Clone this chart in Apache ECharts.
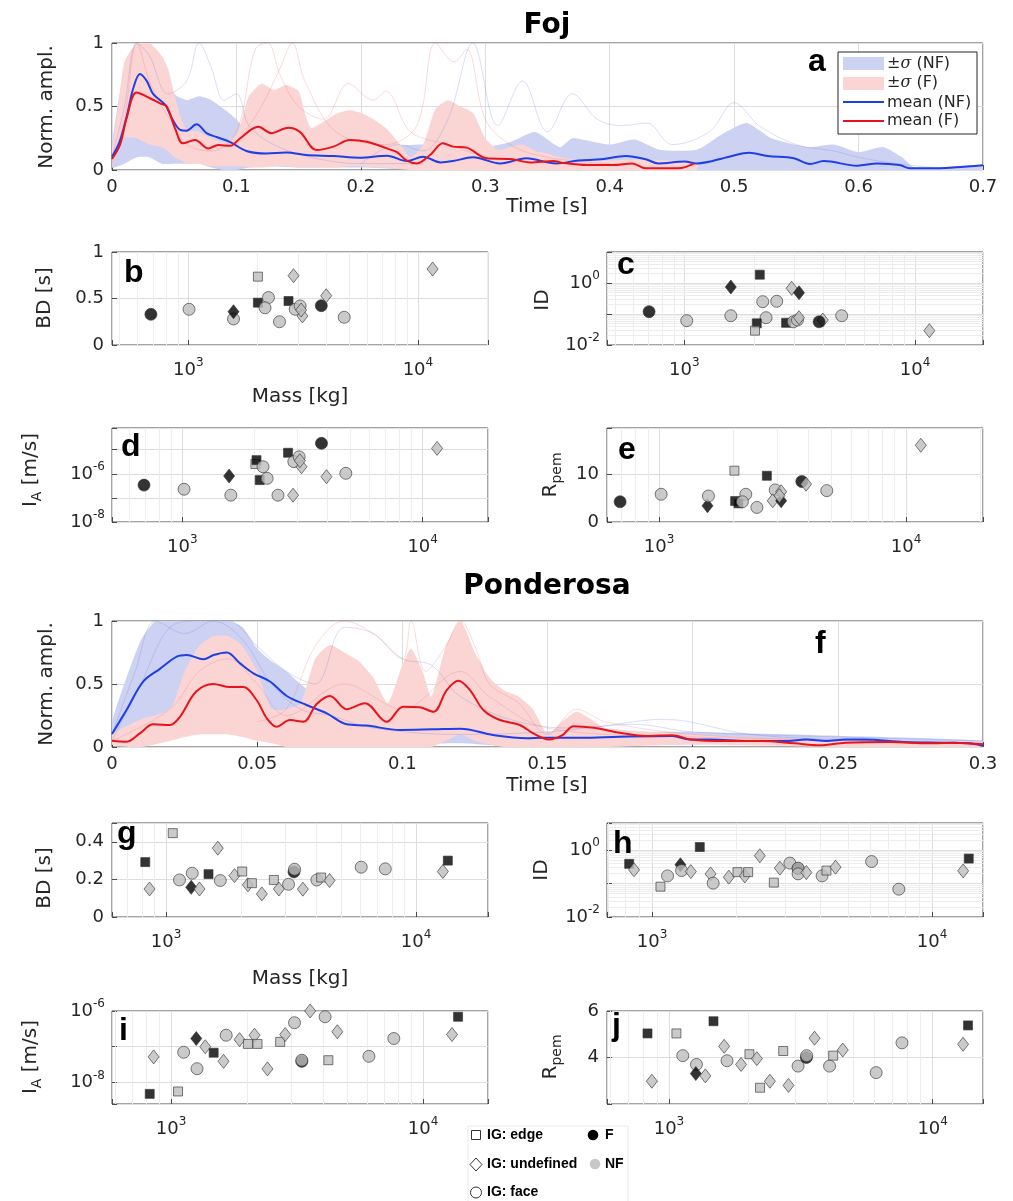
<!DOCTYPE html>
<html>
<head>
<meta charset="UTF-8">
<title>Foj / Ponderosa</title>
<script src="https://cdn.jsdelivr.net/npm/echarts@6.0.0/dist/echarts.min.js"></script>
<style>
  html, body { margin: 0; padding: 0; background: #fff; }
  #chart { width: 1013px; height: 1201px; }
</style>
</head>
<body>
<div id="chart"></div>
<script>
// ---------- Foj : normalised amplitude, [t (s), value] ----------
var fojNfMean = [[0,0.105],[0.006,0.22],[0.012,0.43],[0.017,0.64],[0.0225,0.756],[0.028,0.70],[0.033,0.60],[0.043,0.51],[0.048,0.41],[0.055,0.315],[0.060,0.31],[0.068,0.36],[0.076,0.29],[0.084,0.26],[0.095,0.22],[0.108,0.15],[0.124,0.13],[0.140,0.137],[0.156,0.118],[0.178,0.11],[0.199,0.097],[0.221,0.113],[0.237,0.07],[0.250,0.105],[0.264,0.06],[0.274,0.07],[0.290,0.10],[0.312,0.052],[0.333,0.092],[0.357,0.052],[0.375,0.075],[0.393,0.084],[0.413,0.11],[0.429,0.084],[0.439,0.052],[0.460,0.066],[0.470,0.052],[0.496,0.105],[0.512,0.136],[0.527,0.11],[0.548,0.092],[0.561,0.047],[0.572,0.07],[0.599,0.034],[0.615,0.052],[0.633,0.04],[0.641,0.013],[0.657,0.013],[0.678,0.021],[0.700,0.037]];
var fojFMean = [[0,0.087],[0.0064,0.197],[0.0118,0.41],[0.0198,0.61],[0.0305,0.565],[0.0386,0.525],[0.044,0.50],[0.0506,0.33],[0.057,0.21],[0.0667,0.236],[0.0774,0.17],[0.0854,0.197],[0.0948,0.19],[0.103,0.25],[0.1176,0.34],[0.128,0.29],[0.1417,0.333],[0.151,0.30],[0.1645,0.157],[0.178,0.184],[0.191,0.236],[0.2047,0.223],[0.221,0.17],[0.229,0.14],[0.237,0.073],[0.245,0.052],[0.2556,0.118],[0.266,0.21],[0.274,0.184],[0.285,0.176],[0.301,0.092],[0.320,0.087],[0.336,0.06],[0.355,0.071],[0.361,0.058],[0.382,0.039],[0.403,0.039],[0.418,0.052],[0.429,0.013],[0.455,0.013],[0.468,0.052]];
// +/- sigma bands, [t, lower, upper]
var fojNfBand = [[0,0.02,0.2],[0.01,0.05,0.8],[0.02,0.1,1],[0.03,0.1,1],[0.04,0.05,0.85],[0.05,0.05,0.6],[0.06,0.05,0.55],[0.07,0.05,0.58],[0.08,0.02,0.55],[0.09,0,0.48],[0.1,0,0.4],[0.11,0.02,0.28],[0.12,0.03,0.22],[0.15,0.02,0.22],[0.2,0.02,0.18],[0.25,0,0.2],[0.3,0,0.18],[0.32,0.02,0.22],[0.34,0.02,0.3],[0.36,0,0.18],[0.37,0,0.25],[0.4,0,0.2],[0.42,0,0.24],[0.44,0,0.16],[0.47,0,0.16],[0.49,0,0.28],[0.51,0,0.37],[0.53,0,0.25],[0.56,0,0.18],[0.58,0,0.2],[0.6,0,0.14],[0.62,0,0.18],[0.635,0,0.1],[0.645,0,0.02],[0.7,0,0.04]];
var fojFBand = [[0,0.05,0.15],[0.005,0.15,0.5],[0.01,0.25,0.85],[0.02,0.25,1],[0.03,0.2,1],[0.04,0.18,0.9],[0.045,0.15,0.8],[0.05,0.1,0.6],[0.055,0.08,0.42],[0.06,0.05,0.32],[0.07,0.05,0.3],[0.08,0.03,0.25],[0.09,0.03,0.22],[0.1,0.03,0.28],[0.105,0.03,0.42],[0.11,0.02,0.58],[0.12,0.02,0.68],[0.13,0.03,0.63],[0.14,0.03,0.67],[0.15,0.02,0.62],[0.155,0.02,0.45],[0.16,0.02,0.33],[0.17,0.02,0.38],[0.18,0.02,0.44],[0.19,0.03,0.47],[0.2,0.03,0.45],[0.21,0.02,0.4],[0.22,0.02,0.33],[0.23,0.01,0.22],[0.24,0,0.1],[0.25,0,0.2],[0.26,0,0.48],[0.27,0,0.55],[0.28,0,0.5],[0.29,0,0.45],[0.3,0,0.25],[0.31,0,0.16],[0.32,0,0.18],[0.33,0,0.2],[0.34,0,0.15],[0.35,0,0.13],[0.36,0,0.1],[0.38,0,0.07],[0.42,0,0.08],[0.47,0,0.06]];
var fojNfTraces = [
  [[0,0.1],[0.01,0.5],[0.02,1.0],[0.03,0.9],[0.045,0.6],[0.06,0.7],[0.07,1.0],[0.08,0.8],[0.09,0.55],[0.1,0.6],[0.11,0.35],[0.13,0.2],[0.16,0.1],[0.2,0.05],[0.25,0.05]],
  [[0.2,0.05],[0.23,0.2],[0.25,0.15],[0.27,0.4],[0.29,1.0],[0.31,0.35],[0.33,0.7],[0.35,0.3],[0.37,0.6],[0.39,0.4],[0.41,0.35],[0.43,0.37],[0.45,0.2],[0.48,0.3],[0.5,0.53],[0.52,0.35],[0.55,0.2],[0.58,0.15],[0.6,0.1],[0.63,0.05],[0.66,0.02]]
];
var fojFTraces = [
  [[0,0.05],[0.01,0.4],[0.02,1.0],[0.03,0.7],[0.04,0.5],[0.05,0.35],[0.06,0.2],[0.08,0.15],[0.1,0.3],[0.115,0.95],[0.125,1.0],[0.135,0.75],[0.15,0.5],[0.17,0.4],[0.19,0.68],[0.21,0.55],[0.22,0.62],[0.24,0.3],[0.27,0.2],[0.3,0.1]],
  [[0.1,0.2],[0.12,0.5],[0.135,0.8],[0.145,1.0],[0.155,0.7],[0.18,0.3],[0.22,0.2],[0.245,0.35],[0.26,1.0],[0.275,0.85],[0.285,0.95],[0.3,0.4],[0.32,0.2],[0.35,0.1],[0.4,0.05]]
];

// ---------- Ponderosa ----------
var ponNfMean = [[0,0.103],[0.005,0.294],[0.0108,0.52],[0.0165,0.62],[0.0223,0.717],[0.0257,0.73],[0.0315,0.696],[0.035,0.73],[0.0395,0.75],[0.0441,0.664],[0.0487,0.585],[0.0544,0.52],[0.0602,0.405],[0.067,0.333],[0.074,0.267],[0.0808,0.18],[0.0877,0.17],[0.0992,0.135],[0.1107,0.14],[0.12,0.145],[0.1313,0.095],[0.1428,0.07],[0.148,0.073],[0.1616,0.073],[0.175,0.081],[0.193,0.087],[0.199,0.06],[0.206,0.06],[0.219,0.047],[0.233,0.047],[0.239,0.06],[0.246,0.047],[0.2527,0.06],[0.259,0.06],[0.2727,0.039],[0.286,0.034],[0.295,0.029],[0.3,0.008]];
var ponFMean = [[0,0.05],[0.005,0.042],[0.0096,0.108],[0.0142,0.18],[0.02,0.175],[0.0234,0.24],[0.029,0.44],[0.0349,0.50],[0.0406,0.476],[0.0452,0.476],[0.0498,0.373],[0.0533,0.228],[0.0567,0.161],[0.0613,0.214],[0.0659,0.2],[0.0705,0.341],[0.0751,0.405],[0.0808,0.30],[0.0871,0.347],[0.0946,0.20],[0.1003,0.32],[0.106,0.315],[0.1107,0.28],[0.1153,0.452],[0.1193,0.526],[0.1233,0.452],[0.1279,0.294],[0.1336,0.214],[0.1405,0.175],[0.1451,0.108],[0.1504,0.06],[0.155,0.092],[0.159,0.165],[0.166,0.152],[0.175,0.113],[0.184,0.087],[0.193,0.094],[0.1993,0.06],[0.2104,0.047],[0.2238,0.047],[0.235,0.029],[0.2438,0.013],[0.2527,0.034],[0.268,0.039],[0.2816,0.029],[0.29,0.034],[0.3,0.021]];
var ponNfBand = [[0,0.02,0.2],[0.005,0.05,0.55],[0.01,0.1,0.85],[0.015,0.2,1],[0.02,0.3,1],[0.03,0.35,1],[0.04,0.4,1],[0.045,0.35,0.95],[0.05,0.3,0.78],[0.055,0.3,0.68],[0.06,0.25,0.6],[0.065,0.2,0.5],[0.07,0.1,0.4],[0.075,0.05,0.33],[0.08,0.03,0.3],[0.1,0.02,0.25],[0.12,0.03,0.25],[0.14,0,0.15],[0.15,0,0.12],[0.2,0.02,0.12],[0.25,0.02,0.09],[0.3,0,0.05]];
var ponFBand = [[0,0.02,0.1],[0.01,0,0.22],[0.02,0.05,0.3],[0.025,0.08,0.6],[0.03,0.1,0.8],[0.035,0.1,0.88],[0.04,0.1,0.88],[0.045,0.08,0.8],[0.05,0.05,0.6],[0.055,0.03,0.3],[0.06,0,0.3],[0.065,0,0.35],[0.07,0,0.7],[0.075,0,0.81],[0.08,0,0.75],[0.085,0,0.68],[0.09,0,0.55],[0.095,0,0.35],[0.1,0,0.65],[0.103,0,0.78],[0.107,0,0.6],[0.11,0,0.4],[0.115,0.05,0.8],[0.12,0.1,1],[0.125,0.05,0.75],[0.13,0.02,0.55],[0.135,0,0.45],[0.14,0,0.4],[0.145,0,0.3],[0.15,0,0.1],[0.155,0,0.2],[0.16,0,0.28],[0.165,0,0.22],[0.17,0,0.15],[0.2,0.02,0.1],[0.25,0,0.05],[0.3,0,0.04]];
var ponNfTraces = [
  [[0,0.05],[0.01,0.5],[0.02,0.95],[0.03,1.0],[0.04,1.0],[0.05,0.8],[0.06,0.6],[0.07,0.5],[0.08,0.95],[0.09,0.9],[0.1,0.7],[0.11,0.65],[0.12,0.4],[0.14,0.2],[0.16,0.15],[0.19,0.22],[0.22,0.1],[0.26,0.05],[0.3,0.03]],
  [[0,0.1],[0.008,0.6],[0.015,1.0],[0.025,0.9],[0.035,1.0],[0.045,0.85],[0.055,0.5],[0.065,0.3],[0.075,0.25],[0.09,0.15],[0.12,0.1],[0.15,0.12],[0.18,0.18],[0.2,0.12],[0.25,0.08],[0.3,0.05]]
];
var ponFTraces = [
  [[0.05,0.2],[0.06,0.3],[0.07,0.8],[0.08,1.0],[0.09,0.9],[0.1,0.7],[0.103,1.0],[0.108,0.6],[0.115,0.8],[0.12,1.0],[0.125,0.8],[0.13,0.5],[0.14,0.35],[0.15,0.1],[0.16,0.3],[0.17,0.2],[0.2,0.1],[0.25,0.05]],
  [[0,0.05],[0.02,0.3],[0.03,0.6],[0.04,0.7],[0.05,0.5],[0.06,0.25],[0.08,0.5],[0.1,0.3],[0.12,0.6],[0.13,0.4],[0.15,0.15],[0.2,0.08],[0.3,0.03]]
];

// ---------- scatter: [mass kg, value, IG type (e edge / u undefined / f face), class] ----------
var fojBD = [[687,0.33,'f','F'],[1007,0.384,'f','NF'],[1573,0.28,'f','NF'],[1573,0.358,'u','F'],[2009,0.735,'e','NF'],[2009,0.455,'e','F'],[2234,0.51,'f','NF'],[2158,0.40,'f','NF'],[2495,0.25,'f','NF'],[2731,0.473,'e','F'],[2872,0.745,'u','NF'],[2920,0.384,'f','NF'],[3069,0.42,'f','NF'],[3140,0.312,'u','NF'],[3100,0.376,'u','NF'],[3795,0.423,'f','F'],[3985,0.53,'u','NF'],[4775,0.298,'f','NF'],[11590,0.817,'u','NF']];
var fojID = [[703,0.119,'f','F'],[1024,0.061,'f','NF'],[1590,0.74,'u','F'],[1590,0.088,'f','NF'],[2123,1.85,'e','F'],[2186,0.25,'f','NF'],[2514,0.257,'f','NF'],[2260,0.076,'f','NF'],[2060,0.05,'e','F'],[2024,0.029,'e','NF'],[2761,0.052,'e','F'],[2917,0.676,'u','NF'],[3140,0.486,'u','F'],[2965,0.056,'f','NF'],[3092,0.064,'f','NF'],[3140,0.076,'u','NF'],[3980,0.064,'u','NF'],[3837,0.056,'f','F'],[4808,0.088,'f','NF'],[11530,0.029,'u','NF']];
var fojIA = [[693,3.4e-7,'f','F'],[1017,2.3e-7,'f','NF'],[1592,1.3e-7,'f','NF'],[1566,8.1e-7,'u','F'],[2014,2.55e-6,'e','NF'],[2036,3.7e-6,'e','F'],[2167,1.97e-6,'f','NF'],[2099,5.5e-7,'e','F'],[2254,6.5e-7,'f','NF'],[2501,1.3e-7,'f','NF'],[2754,7.5e-6,'e','F'],[2890,1.3e-7,'u','NF'],[2911,3.2e-6,'f','NF'],[3064,5.1e-6,'f','NF'],[3133,1.97e-6,'u','NF'],[3084,3.5e-6,'u','NF'],[3793,1.85e-5,'f','F'],[3980,7.6e-7,'u','NF'],[4790,1.05e-6,'f','NF'],[11480,1.14e-5,'u','NF']];
var fojRpem = [[695,4.22,'f','F'],[1019,5.78,'f','NF'],[1570,3.38,'u','F'],[1584,5.42,'f','NF'],[2018,10.7,'e','NF'],[2032,4.37,'e','F'],[2095,3.88,'e','F'],[2244,5.78,'f','NF'],[2174,4.22,'f','NF'],[2489,3.04,'f','NF'],[2731,9.64,'e','F'],[2951,6.69,'f','NF'],[2884,4.43,'u','NF'],[3120,4.43,'u','F'],[3120,6.33,'u','NF'],[3070,5.49,'u','NF'],[3783,8.44,'f','F'],[3937,7.89,'u','NF'],[4776,6.54,'f','NF'],[11480,16.0,'u','NF']];

var ponBD = [[826,0.292,'e','F'],[859,0.149,'u','NF'],[1064,0.446,'e','NF'],[1132,0.197,'f','NF'],[1273,0.233,'f','NF'],[1261,0.158,'u','F'],[1361,0.149,'u','NF'],[1479,0.228,'e','F'],[1611,0.366,'u','NF'],[1648,0.194,'f','NF'],[1879,0.22,'u','NF'],[2017,0.242,'e','NF'],[2125,0.171,'u','NF'],[2205,0.18,'e','NF'],[2417,0.123,'u','NF'],[2700,0.197,'e','NF'],[2827,0.149,'u','NF'],[3090,0.174,'f','NF'],[3250,0.24,'f','F'],[3266,0.254,'f','NF'],[3526,0.148,'u','NF'],[4010,0.197,'f','NF'],[4175,0.21,'e','NF'],[4508,0.194,'u','NF'],[6035,0.265,'f','NF'],[7533,0.256,'f','NF'],[12800,0.242,'u','NF'],[13400,0.30,'e','F']];
var ponID = [[828,0.39,'e','F'],[862,0.258,'u','NF'],[1071,0.081,'e','NF'],[1135,0.17,'f','NF'],[1262,0.365,'u','F'],[1274,0.245,'f','NF'],[1375,0.229,'u','NF'],[1480,1.24,'e','F'],[1617,0.195,'u','NF'],[1652,0.103,'f','NF'],[1879,0.156,'u','NF'],[2018,0.22,'e','NF'],[2142,0.17,'u','NF'],[2203,0.22,'e','NF'],[2425,0.68,'u','NF'],[2721,0.107,'e','NF'],[2860,0.29,'u','NF'],[3104,0.41,'f','NF'],[3322,0.28,'f','F'],[3322,0.29,'f','NF'],[3322,0.195,'f','NF'],[3556,0.214,'u','NF'],[4047,0.17,'f','NF'],[4195,0.245,'e','NF'],[4520,0.31,'u','NF'],[6081,0.457,'f','NF'],[7605,0.068,'f','NF'],[12910,0.24,'u','NF'],[13520,0.56,'e','F']];
var ponIA = [[853,5.2e-8,'u','NF'],[823,4.8e-9,'e','F'],[1066,5.6e-9,'e','NF'],[1122,7.0e-8,'f','NF'],[1268,2.43e-8,'f','NF'],[1259,1.7e-7,'u','F'],[1367,1.0e-7,'u','NF'],[1476,6.8e-8,'e','F'],[1616,3.9e-8,'u','NF'],[1655,2.1e-7,'f','NF'],[1870,1.58e-7,'u','NF'],[2018,1.2e-7,'e','NF'],[2144,2.1e-7,'u','NF'],[2203,1.2e-7,'e','NF'],[2413,2.4e-8,'u','NF'],[2710,1.37e-7,'e','NF'],[2837,2.2e-7,'u','NF'],[3090,4.7e-7,'f','NF'],[3303,3.9e-8,'f','F'],[3303,4.2e-8,'f','NF'],[3565,1.0e-6,'u','NF'],[4085,6.9e-7,'f','NF'],[4209,4.2e-8,'e','NF'],[4570,2.63e-7,'u','NF'],[6098,5.4e-8,'f','NF'],[7655,1.7e-7,'f','NF'],[13030,2.2e-7,'u','NF'],[13770,6.9e-7,'e','F']];
var ponRpem = [[829,5.035,'e','F'],[861,2.98,'u','NF'],[1067,5.035,'e','NF'],[1128,4.08,'f','NF'],[1271,3.70,'f','NF'],[1264,3.31,'u','F'],[1374,3.21,'u','NF'],[1475,5.56,'e','F'],[1619,4.48,'u','NF'],[1660,3.86,'f','NF'],[1877,3.70,'u','NF'],[2019,4.14,'e','NF'],[2154,3.95,'u','NF'],[2215,2.70,'e','NF'],[2414,2.98,'u','NF'],[2712,4.28,'e','NF'],[2839,2.80,'u','NF'],[3087,3.63,'f','NF'],[3320,4.0,'f','F'],[3328,4.08,'f','NF'],[3565,4.83,'u','NF'],[4064,3.63,'f','NF'],[4195,4.08,'e','NF'],[4560,4.32,'u','NF'],[6105,3.35,'f','NF'],[7650,4.63,'f','NF'],[13040,4.57,'u','NF'],[13620,5.38,'e','F']];

// tick labels shown on the linear axes
var bdTicks = [0, 0.5, 1];
var rpemTicksFoj = [0, 10];
var bdTicksPon = [0, 0.2, 0.4];
var rpemTicksPon = [4, 6];

var FONT = '"DejaVu Sans", sans-serif';
var AXC = '#262626';
var BOX = '#4a4a4a';
var GRIDC = '#dedede';
var MINORC = '#ededed';
var NF_BAND = '#cdd2f2';
var F_BAND = '#fbd4d4';
var NF_TRACE = 'rgba(110,125,225,0.25)';
var F_TRACE = 'rgba(240,110,110,0.25)';
var NF_LINE = '#1f3fe6';
var F_LINE = '#e8141c';
var SYM = { e: 'rect', u: 'diamond', f: 'circle' };
var SIZE = { e: 9, u: [11, 14], f: 12 };

var option = { animation: false, backgroundColor: '#fff', grid: [], xAxis: [], yAxis: [], series: [], graphic: { elements: [] } };

var tickStyle = { inside: true, length: 5, lineStyle: { color: BOX } };
var labelBase = { fontFamily: FONT, fontSize: 18, color: AXC };
var supRich = { sup: { fontFamily: FONT, fontSize: 12, color: AXC, padding: [0, 0, 14, 0] } };

function decadeLabel(evenOnly) {
  return function (v) {
    var e = Math.log10(v), r = Math.round(e);
    if (Math.abs(e - r) > 1e-6) return '';
    if (evenOnly && r % 2 !== 0) return '';
    return '10{sup|' + r + '}';
  };
}
function listLabel(ticks) {
  return function (v) {
    for (var k = 0; k < ticks.length; k++) if (Math.abs(v - ticks[k]) < 1e-9) return String(ticks[k]);
    return '';
  };
}
function minorLines(key, lo, hi) {
  var out = [];
  for (var e = Math.floor(Math.log10(lo)); e <= Math.ceil(Math.log10(hi)); e++) {
    for (var k = 2; k <= 9; k++) {
      var v = k * Math.pow(10, e);
      if (v > lo && v < hi) { var o = {}; o[key] = v; out.push(o); }
    }
  }
  return out;
}
function addGrid(box) {
  option.grid.push({ left: box[0], top: box[1], width: box[2], height: box[3], show: true, borderColor: BOX, borderWidth: 1 });
  return option.grid.length - 1;
}
function bandSeries(band, color, gi, z) {
  return {
    type: 'custom', xAxisIndex: gi, yAxisIndex: gi, silent: true, clip: true, z: z,
    data: band, encode: { x: 0, y: [1, 2] },
    renderItem: function (params, api) {
      if (params.dataIndex !== 0) return null;
      var pts = [], i;
      for (i = 0; i < band.length; i++) pts.push(api.coord([band[i][0], band[i][2]]));
      for (i = band.length - 1; i >= 0; i--) pts.push(api.coord([band[i][0], band[i][1]]));
      return { type: 'polygon', shape: { points: pts, smooth: 0.2 }, style: { fill: color } };
    }
  };
}
function lineSeries(data, color, width, gi, z) {
  return { type: 'line', xAxisIndex: gi, yAxisIndex: gi, data: data, smooth: 0.35, symbol: 'none', silent: true, z: z,
    lineStyle: { color: color, width: width } };
}

function addTimePanel(box, tmax, step, nfBand, fBand, nfTraces, fTraces, nfMean, fMean) {
  var gi = addGrid(box);
  option.xAxis.push({ gridIndex: gi, type: 'value', min: 0, max: tmax, interval: step,
    axisLine: { show: false }, axisTick: tickStyle, axisLabel: Object.assign({ margin: 8 }, labelBase),
    splitLine: { lineStyle: { color: GRIDC } } });
  option.yAxis.push({ gridIndex: gi, type: 'value', min: 0, max: 1, interval: 0.5,
    axisLine: { show: false }, axisTick: tickStyle, axisLabel: Object.assign({ margin: 8 }, labelBase),
    splitLine: { lineStyle: { color: GRIDC } } });
  option.series.push(bandSeries(nfBand, NF_BAND, gi, 1));
  option.series.push(bandSeries(fBand, F_BAND, gi, 2));
  nfTraces.forEach(function (t) { option.series.push(lineSeries(t, NF_TRACE, 1, gi, 3)); });
  fTraces.forEach(function (t) { option.series.push(lineSeries(t, F_TRACE, 1, gi, 3)); });
  option.series.push(lineSeries(nfMean, NF_LINE, 2, gi, 4));
  option.series.push(lineSeries(fMean, F_LINE, 2, gi, 4));
}

function addScatterPanel(box, xr, yc, pts) {
  var gi = addGrid(box);
  option.xAxis.push({ gridIndex: gi, type: 'log', logBase: 10, min: xr[0], max: xr[1],
    axisLine: { show: false }, axisTick: tickStyle,
    axisLabel: Object.assign({ margin: 12, formatter: decadeLabel(false), rich: supRich }, labelBase),
    splitLine: { lineStyle: { color: GRIDC } } });
  var ya = { gridIndex: gi, min: yc.min, max: yc.max, axisLine: { show: false }, axisTick: tickStyle,
    splitLine: { lineStyle: { color: GRIDC } } };
  if (yc.log) {
    ya.type = 'log'; ya.logBase = 10;
    ya.axisLabel = Object.assign({ margin: 7, formatter: decadeLabel(true), rich: supRich }, labelBase);
  } else {
    ya.type = 'value'; ya.interval = yc.interval;
    ya.axisLabel = Object.assign({ margin: 8, formatter: listLabel(yc.ticks) }, labelBase);
  }
  option.yAxis.push(ya);
  var mins = minorLines('xAxis', xr[0], xr[1]);
  if (yc.log) mins = mins.concat(minorLines('yAxis', yc.min, yc.max));
  option.series.push({ type: 'line', xAxisIndex: gi, yAxisIndex: gi, data: [], silent: true, z: 1,
    markLine: { silent: true, z: 1, symbol: ['none', 'none'], label: { show: false }, animation: false,
      lineStyle: { color: MINORC, type: 'solid', width: 1 }, emphasis: { disabled: true }, data: mins } });
  option.series.push({ type: 'scatter', xAxisIndex: gi, yAxisIndex: gi, clip: false, z: 10, silent: true,
    itemStyle: { borderColor: '#333', borderWidth: 0.8 },
    data: pts.map(function (p) {
      return { value: [p[0], p[1]], symbol: SYM[p[2]], symbolSize: SIZE[p[2]],
        itemStyle: { color: p[3] === 'F' ? '#000' : '#bdbdbd' } };
    }) });
}

// a, b-e (Foj) ; f, g-j (Ponderosa)
addTimePanel([112, 43, 871, 127], 0.7, 0.1, fojNfBand, fojFBand, fojNfTraces, fojFTraces, fojNfMean, fojFMean);
addScatterPanel([112, 252, 376, 93], [465, 20200], { min: 0, max: 1, interval: 0.5, ticks: bdTicks }, fojBD);
addScatterPanel([607, 252, 376, 93], [462, 19700], { log: true, min: 0.01, max: 10 }, fojID);
addScatterPanel([112, 428, 376, 94], [510, 18700], { log: true, min: 1e-8, max: 8e-5 }, fojIA);
addScatterPanel([607, 428, 376, 94], [615, 20500], { min: 0, max: 19.6, interval: 10, ticks: rpemTicksFoj }, fojRpem);
addTimePanel([112, 621, 871, 126], 0.3, 0.05, ponNfBand, ponFBand, ponNfTraces, ponFTraces, ponNfMean, ponFMean);
addScatterPanel([112, 823, 376, 94], [608, 19400], { min: 0, max: 0.5, interval: 0.2, ticks: bdTicksPon }, ponBD);
addScatterPanel([607, 823, 376, 94], [690, 15200], { log: true, min: 0.01, max: 6.5 }, ponID);
addScatterPanel([112, 1011, 376, 93], [583, 18100], { log: true, min: 2.5e-9, max: 1e-6 }, ponIA);
addScatterPanel([607, 1011, 376, 93], [582, 15520], { min: 2, max: 6, interval: 2, ticks: rpemTicksPon }, ponRpem);

// ---------- texts ----------
var G = option.graphic.elements;
function txt(x, y, text, o) {
  o = o || {};
  var al = o.align || 'center';
  G.push({ type: 'text', x: x, y: y, rotation: o.rot ? Math.PI / 2 : 0, z: 100, silent: true,
    style: { text: text, fill: o.color || AXC, fontSize: o.size || 20, fontFamily: o.family || FONT,
      fontWeight: o.weight || 'normal', align: al, textAlign: al, verticalAlign: 'middle', textVerticalAlign: 'middle',
      rich: o.rich } });
}
var subRich = {
  n: { fontFamily: FONT, fontSize: 20, color: AXC },
  s: { fontFamily: FONT, fontSize: 14, color: AXC, padding: [12, 0, 0, 0] }
};
txt(547, 26, 'Foj', { size: 28, weight: 'bold', color: '#000' });
txt(547, 587, 'Ponderosa', { size: 28, weight: 'bold', color: '#000' });
txt(47, 107, 'Norm. ampl.', { rot: true });
txt(47, 684, 'Norm. ampl.', { rot: true });
txt(547, 207, 'Time [s]');
txt(547, 786, 'Time [s]');
txt(45, 298, 'BD [s]', { rot: true });
txt(45, 878, 'BD [s]', { rot: true });
txt(300, 397, 'Mass [kg]');
txt(300, 979, 'Mass [kg]');
txt(543, 300, 'ID', { rot: true });
txt(542, 870, 'ID', { rot: true });
txt(31, 470, '{n|I}{s|A}{n| [m/s]}', { rot: true, rich: subRich });
txt(31, 1057, '{n|I}{s|A}{n| [m/s]}', { rot: true, rich: subRich });
txt(551, 475, '{n|R}{s|pem}', { rot: true, rich: subRich });
txt(551, 1057, '{n|R}{s|pem}', { rot: true, rich: subRich });

var letters = [['a', 808, 62], ['b', 124, 273], ['c', 617, 265], ['d', 121, 447], ['e', 618, 450],
  ['f', 815, 644], ['g', 117, 834], ['h', 613, 844], ['i', 119, 1031], ['j', 612, 1026]];
letters.forEach(function (l) {
  txt(l[1], l[2], l[0], { size: 32, weight: 'bold', family: '"Liberation Sans", sans-serif', color: '#000', align: 'left' });
});

// legend of panel a
G.push({ type: 'rect', z: 99, silent: true, shape: { x: 838, y: 52, width: 139, height: 82 }, style: { fill: '#fff', stroke: '#262626', lineWidth: 1 } });
G.push({ type: 'rect', z: 100, silent: true, shape: { x: 843, y: 57, width: 41, height: 13 }, style: { fill: NF_BAND } });
G.push({ type: 'rect', z: 100, silent: true, shape: { x: 843, y: 77, width: 41, height: 13 }, style: { fill: F_BAND } });
G.push({ type: 'line', z: 100, silent: true, shape: { x1: 843, y1: 102, x2: 884, y2: 102 }, style: { stroke: NF_LINE, lineWidth: 2 } });
G.push({ type: 'line', z: 100, silent: true, shape: { x1: 843, y1: 121, x2: 884, y2: 121 }, style: { stroke: F_LINE, lineWidth: 2 } });
var sigRich = {
  p: { fontFamily: '"DejaVu Serif", serif', fontSize: 16, color: AXC },
  m: { fontFamily: '"DejaVu Serif", serif', fontStyle: 'italic', fontSize: 16, color: AXC },
  t: { fontFamily: FONT, fontSize: 16, color: AXC }
};
txt(887, 64, '{p|±}{m|σ}{t| (NF)}', { align: 'left', rich: sigRich, size: 16 });
txt(887, 83, '{p|±}{m|σ}{t| (F)}', { align: 'left', rich: sigRich, size: 16 });
txt(887, 103, 'mean (NF)', { align: 'left', size: 16 });
txt(887, 121, 'mean (F)', { align: 'left', size: 16 });

// legend of the scatter panels
var LF = '"Liberation Sans", sans-serif';
G.push({ type: 'rect', z: 99, silent: true, shape: { x: 468, y: 1126, width: 160, height: 80 }, style: { fill: '#fff', stroke: '#ebebeb', lineWidth: 1 } });
G.push({ type: 'rect', z: 100, silent: true, shape: { x: 471.5, y: 1130.5, width: 9, height: 9 }, style: { fill: 'none', stroke: '#333', lineWidth: 1 } });
G.push({ type: 'polygon', z: 100, silent: true, shape: { points: [[476, 1158], [482, 1164.5], [476, 1171], [470, 1164.5]] }, style: { fill: 'none', stroke: '#333', lineWidth: 1 } });
G.push({ type: 'circle', z: 100, silent: true, shape: { cx: 476, cy: 1192.5, r: 5.5 }, style: { fill: 'none', stroke: '#333', lineWidth: 1 } });
G.push({ type: 'circle', z: 100, silent: true, shape: { cx: 593, cy: 1135, r: 5.3 }, style: { fill: '#000' } });
G.push({ type: 'circle', z: 100, silent: true, shape: { cx: 595, cy: 1164, r: 5.3 }, style: { fill: '#c8c8c8' } });
txt(487, 1135, 'IG: edge', { align: 'left', size: 14, weight: 'bold', family: LF, color: '#000' });
txt(487, 1164, 'IG: undefined', { align: 'left', size: 14, weight: 'bold', family: LF, color: '#000' });
txt(487, 1192, 'IG: face', { align: 'left', size: 14, weight: 'bold', family: LF, color: '#000' });
txt(605, 1135, 'F', { align: 'left', size: 14, weight: 'bold', family: LF, color: '#000' });
txt(605, 1164, 'NF', { align: 'left', size: 14, weight: 'bold', family: LF, color: '#000' });

var chart = echarts.init(document.getElementById('chart'), null, { renderer: 'canvas' });
chart.setOption(option);
window.onresize = chart.resize;
</script>
</body>
</html>
